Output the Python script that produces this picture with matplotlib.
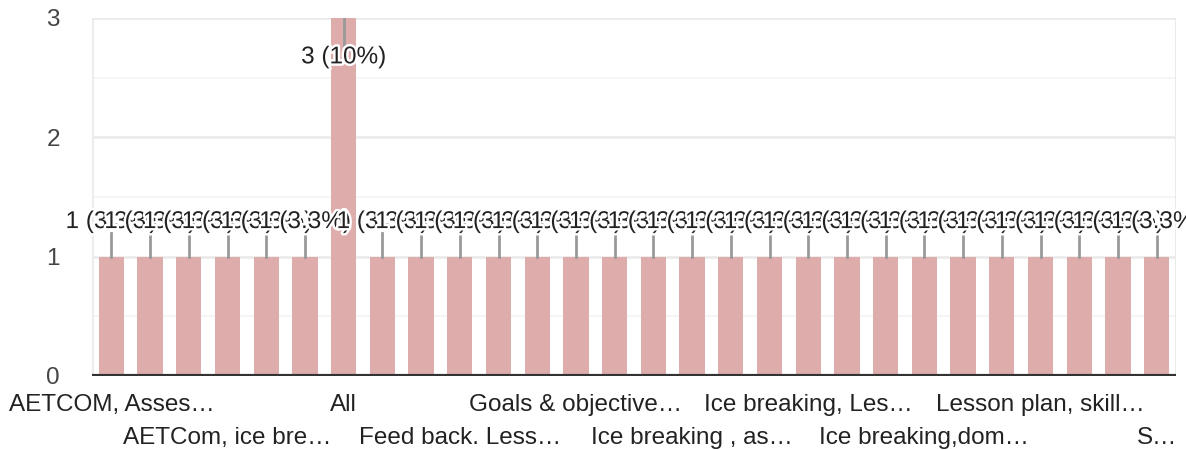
import matplotlib
matplotlib.use('Agg')
import matplotlib.pyplot as plt
import matplotlib.patheffects as pe

# Responses per answer (sorted alphabetically as in the form summary)
values = [1, 1, 1, 1, 1, 1, 3, 1, 1, 1, 1, 1, 1, 1,
          1, 1, 1, 1, 1, 1, 1, 1, 1, 1, 1, 1, 1, 1]
# only every third category label is shown on the axis
tick_labels = ['AETCOM, Asses\u2026', 'AETCom, ice bre\u2026', 'All',
               'Feed back. Less\u2026', 'Goals & objective\u2026',
               'Ice breaking , as\u2026', 'Ice breaking, Les\u2026',
               'Ice breaking,dom\u2026', 'Lesson plan, skill\u2026', 'S\u2026']
tick_step = 3
yticks = [0, 1, 2, 3]

total = sum(values)
bar_color = '#dfacac'
text_color = '#222222'

plt.rcParams['font.family'] = ['Liberation Sans', 'DejaVu Sans']

fig = plt.figure(figsize=(11.86, 4.5), dpi=100)
ax = fig.add_axes([92 / 1186, 74 / 450, 1084 / 1186, 358 / 450])

x = list(range(len(values)))
ax.bar(x, values, width=0.65, color=bar_color, zorder=2)

ax.set_xlim(-0.5, len(values) - 0.5)
ax.set_ylim(0, max(yticks))

# gridlines
for v in [0.5, 1.5, 2.5]:
    ax.axhline(v, color='#f3f3f3', lw=1.2, zorder=0)
for v in yticks[1:]:
    ax.axhline(v, color='#ebebeb', lw=2, zorder=0)
ax.axvline(-0.5, color='#ebebeb', lw=2, zorder=0)
ax.axvline(len(values) - 0.5, color='#ebebeb', lw=1.5, zorder=0)
ax.axhline(0, color='#333333', lw=3, zorder=3)

for s in ax.spines.values():
    s.set_visible(False)

ax.set_yticks(yticks)
ax.set_yticklabels([str(t) for t in yticks], fontsize=17.5, color='#444444')
ax.tick_params(axis='y', length=0, pad=23)

ax.set_xticks([])
for k, lab in enumerate(tick_labels):
    i = k * tick_step
    yoff = -0.08 if k % 2 == 0 else -0.172
    ax.text(i, yoff, lab, transform=ax.get_xaxis_transform(), ha='center',
            va='center', fontsize=17.5, color=text_color, clip_on=False)

# annotations with stems
halo = [pe.withStroke(linewidth=3.5, foreground='white')]
ymax = max(yticks)
for i, v in enumerate(values):
    pct = 100 * v / total
    txt = f'{v} ({pct:.2g}%)' if pct >= 10 else f'{v} ({pct:.1f}%)'
    if v >= ymax:
        ax.plot([i, i], [v, v - 0.23], color='#999999', lw=2, zorder=4)
        ty = v - 0.33
    else:
        ax.plot([i, i], [v, v + 0.2], color='#999999', lw=2, zorder=4)
        ty = v + 0.29
    ax.text(i, ty, txt, ha='center', va='center', fontsize=17.5,
            color=text_color, path_effects=halo, zorder=5)

fig.savefig('out.png', dpi=100, facecolor='white')
